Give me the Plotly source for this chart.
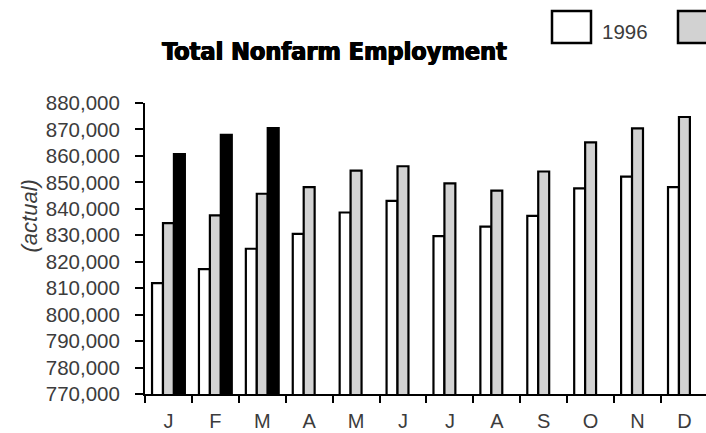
import plotly.graph_objects as go

# Monthly total nonfarm employment (actual)
months = ["Jan", "Feb", "Mar", "Apr", "May", "Jun",
          "Jul", "Aug", "Sep", "Oct", "Nov", "Dec"]
month_letters = ["J", "F", "M", "A", "M", "J", "J", "A", "S", "O", "N", "D"]
series_names = ["1996", "1997", "1998"]
emp_1996 = [811900, 817200, 824900, 830500, 838600, 843000,
            829700, 833300, 837300, 847700, 852200, 848200]
emp_1997 = [834600, 837500, 845700, 848200, 854400, 856100,
            849600, 846900, 854100, 865100, 870400, 874700]
emp_1998 = [860700, 868000, 870500, None, None, None,
            None, None, None, None, None, None]
y_ticks = [770000, 780000, 790000, 800000, 810000, 820000,
           830000, 840000, 850000, 860000, 870000, 880000]

W, H = 706, 433
M_L, M_R, M_T, M_B = 145, 0, 103, 39
fills = ["#ffffff", "#d2d2d2", "#000000"]
TICK_FONT = dict(family="Liberation Sans, Arial, sans-serif", size=20.5, color="#3c3c3c")

fig = go.Figure()
for name, vals, fill in zip(series_names, [emp_1996, emp_1997, emp_1998], fills):
    fig.add_trace(go.Bar(
        x=months, y=vals, name=name,
        marker=dict(color=fill, line=dict(color="#000000", width=2.2)),
        showlegend=False,
    ))


def px_x(px):
    return (px - M_L) / (W - M_L - M_R)


def px_y(py):
    return (H - M_B - py) / (H - M_T - M_B)


# Legend swatches and labels drawn as boxes beside the title
shapes = []
annotations = []
swatch_left = [552, 678]
for left, fill in zip(swatch_left, fills[:2]):
    shapes.append(dict(
        type="rect", xref="paper", yref="paper",
        x0=px_x(left), x1=px_x(left + 39), y0=px_y(43), y1=px_y(11),
        fillcolor=fill, line=dict(color="#000000", width=2.5), layer="above",
    ))
annotations.append(dict(
    text=series_names[0], xref="paper", yref="paper",
    x=px_x(600), y=px_y(31.5), xanchor="left", yanchor="middle",
    showarrow=False, font=TICK_FONT,
))

# Rotated y-axis caption
annotations.append(dict(
    text="<i>(actual)</i>", xref="paper", yref="paper",
    x=px_x(29), y=px_y(216.5), xanchor="center", yanchor="middle",
    textangle=-90, showarrow=False,
    font=dict(family="Liberation Sans, Arial, sans-serif", size=22, color="#3c3c3c"),
))

fig.update_layout(
    width=W, height=H,
    margin=dict(l=M_L, r=M_R, t=M_T, b=M_B, autoexpand=False),
    paper_bgcolor="#ffffff", plot_bgcolor="#ffffff",
    barmode="group", bargap=0.30, bargroupgap=0,
    title=dict(
        text="<b>Total Nonfarm Employment</b>",
        x=334.5 / W, xanchor="center", xref="container",
        y=1 - 51 / H, yanchor="middle", yref="container",
        font=dict(family="DejaVu Sans Condensed, sans-serif",
                  size=25, color="#000000",
                  shadow="0.6px 0 0 #000, -0.6px 0 0 #000, 0 0.5px 0 #000"),
    ),
    shapes=shapes,
    annotations=annotations,
)

fig.update_xaxes(
    type="category", categoryorder="array", categoryarray=months,
    tickmode="array", tickvals=months, ticktext=month_letters,
    tickson="boundaries", range=[-0.5, 11.46],
    ticks="outside", ticklen=7, tickwidth=2, tickcolor="#000000",
    showline=True, linewidth=2, linecolor="#000000",
    showgrid=False, zeroline=False,
    tickfont=dict(TICK_FONT, size=20), ticklabelstandoff=8,
)
fig.update_yaxes(
    range=[770000, 880000], tickmode="array", tickvals=y_ticks,
    tickformat=",d",
    ticks="outside", ticklen=8, tickwidth=2, tickcolor="#000000",
    showline=True, linewidth=2, linecolor="#000000",
    showgrid=False, zeroline=False,
    tickfont=TICK_FONT, ticklabelstandoff=11,
)

fig.write_html("out.html")
